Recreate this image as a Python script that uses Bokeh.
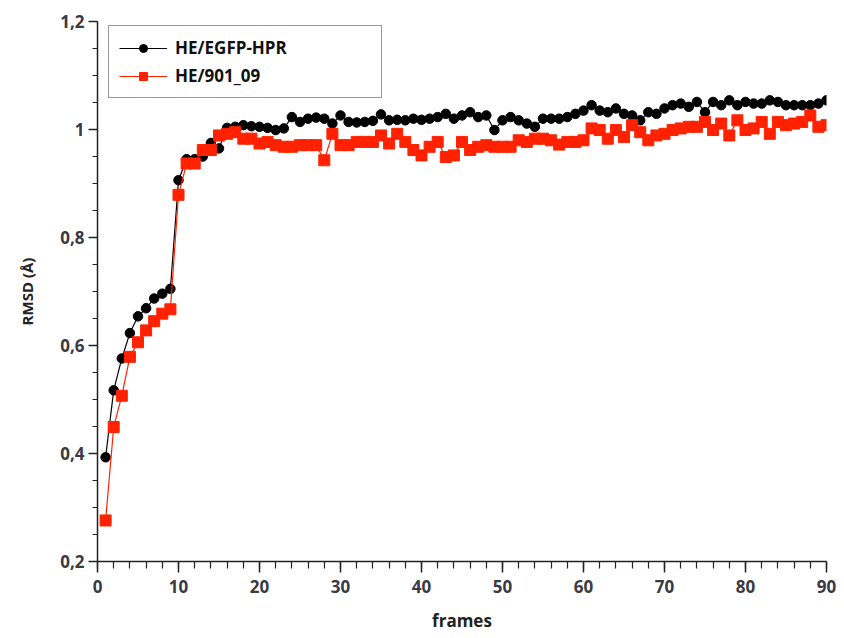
from bokeh.plotting import figure
from bokeh.models import FixedTicker, CustomJSTickFormatter, Legend, LegendItem
from bokeh.embed import file_html
from bokeh.resources import INLINE

frames = list(range(1, 91))

egfp_hpr = [
    0.393, 0.517, 0.576, 0.623, 0.654, 0.669, 0.687, 0.696, 0.705, 0.906,
    0.945, 0.945, 0.950, 0.975, 0.965, 1.003, 1.005, 1.008, 1.006, 1.005,
    1.003, 0.999, 1.002, 1.023, 1.014, 1.020, 1.022, 1.020, 1.011, 1.026,
    1.014, 1.013, 1.014, 1.016, 1.028, 1.017, 1.018, 1.017, 1.020, 1.018,
    1.020, 1.023, 1.029, 1.020, 1.026, 1.032, 1.023, 1.026, 0.999, 1.017,
    1.023, 1.017, 1.011, 1.005, 1.020, 1.020, 1.020, 1.023, 1.029, 1.035,
    1.045, 1.035, 1.032, 1.039, 1.029, 1.026, 1.017, 1.032, 1.029, 1.039,
    1.045, 1.048, 1.042, 1.051, 1.032, 1.051, 1.045, 1.054, 1.045, 1.051,
    1.048, 1.048, 1.054, 1.051, 1.045, 1.045, 1.045, 1.045, 1.048, 1.054,
]

he_901_09 = [
    0.276, 0.449, 0.507, 0.579, 0.606, 0.628, 0.645, 0.659, 0.667, 0.879,
    0.937, 0.937, 0.962, 0.962, 0.989, 0.992, 0.995, 0.983, 0.983, 0.974,
    0.977, 0.971, 0.968, 0.968, 0.971, 0.971, 0.971, 0.943, 0.992, 0.971,
    0.971, 0.977, 0.977, 0.977, 0.989, 0.974, 0.992, 0.977, 0.962, 0.952,
    0.968, 0.977, 0.949, 0.952, 0.977, 0.962, 0.968, 0.971, 0.968, 0.968,
    0.968, 0.980, 0.977, 0.983, 0.983, 0.980, 0.972, 0.977, 0.977, 0.980,
    1.002, 0.999, 0.983, 0.999, 0.986, 1.008, 0.995, 0.980, 0.989, 0.992,
    0.999, 1.002, 1.005, 1.005, 1.014, 0.999, 1.011, 0.989, 1.017, 0.999,
    1.002, 1.014, 0.992, 1.014, 1.008, 1.011, 1.014, 1.026, 1.005, 1.008,
]

x_ticks = [0, 10, 20, 30, 40, 50, 60, 70, 80, 90]
y_ticks = [0.2, 0.4, 0.6, 0.8, 1.0, 1.2]

p = figure(width=840, height=634, x_range=(0, 90), y_range=(0.2, 1.2),
           output_backend="svg", toolbar_location=None,
           min_border_left=97, min_border_right=14, min_border_top=21,
           min_border_bottom=72)
p.outline_line_color = None
p.xgrid.visible = False
p.ygrid.visible = False
p.background_fill_color = "white"
p.border_fill_color = "white"

black = "#000000"
red = "#ff2200"

l1 = p.line(frames, egfp_hpr, line_color=black, line_width=1.2)
s1 = p.scatter(frames, egfp_hpr, marker="circle", size=9.5, fill_color=black, line_color=black)
l2 = p.line(frames, he_901_09, line_color=red, line_width=1.2)
s2 = p.scatter(frames, he_901_09, marker="square", size=11, fill_color=red, line_color=red)

legend = Legend(items=[LegendItem(label="HE/EGFP-HPR", renderers=[l1, s1]),
                       LegendItem(label="HE/901_09", renderers=[l2, s2])],
                location=(11, 463))
legend.border_line_color = "#333333"
legend.border_line_width = 1
legend.background_fill_alpha = 1
legend.label_text_font = "Open Sans"
legend.label_text_font_style = "bold"
legend.label_text_font_size = "17px"
legend.label_text_color = "#111111"
legend.glyph_width = 48
legend.glyph_height = 20
legend.label_height = 20
legend.label_width = 196
legend.label_standoff = 8
legend.padding = 10
legend.spacing = 5
legend.margin = 0
p.add_layout(legend, "center")

fmt = CustomJSTickFormatter(code="""
var v = Math.round(tick * 10) / 10;
return v.toString().replace('.', ',');
""")

xa = p.xaxis[0]
xa.ticker = FixedTicker(ticks=x_ticks, minor_ticks=list(range(0, 91, 2)))
xa.axis_label = "frames"
ya = p.yaxis[0]
ya.ticker = FixedTicker(ticks=y_ticks, minor_ticks=[0.2 + 0.05 * i for i in range(21)])
ya.formatter = fmt
ya.axis_label = "RMSD (Å)"

for ax in (xa, ya):
    ax.axis_line_color = "#222222"
    ax.axis_line_width = 1.5
    ax.major_tick_line_color = "#222222"
    ax.minor_tick_line_color = "#222222"
    ax.major_tick_line_width = 1.5
    ax.minor_tick_line_width = 1.2
    ax.major_tick_in = 0
    ax.minor_tick_in = 0
    ax.major_tick_out = 9
    ax.minor_tick_out = 5
    ax.major_label_text_font = "Open Sans"
    ax.major_label_text_font_style = "bold"
    ax.major_label_text_font_size = "17px"
    ax.major_label_text_color = "#3a3a44"
    ax.axis_label_text_font = "Open Sans"
    ax.axis_label_text_font_style = "bold"
    ax.axis_label_text_color = "#222222"

xa.major_tick_out = 11
xa.minor_tick_out = 7
xa.major_label_standoff = 7
xa.axis_label_text_font_size = "17px"
xa.axis_label_standoff = 13
ya.major_label_standoff = 4
ya.axis_label_text_font_size = "15px"
ya.axis_label_standoff = 20

open("out.html", "w").write(file_html(p, INLINE))
